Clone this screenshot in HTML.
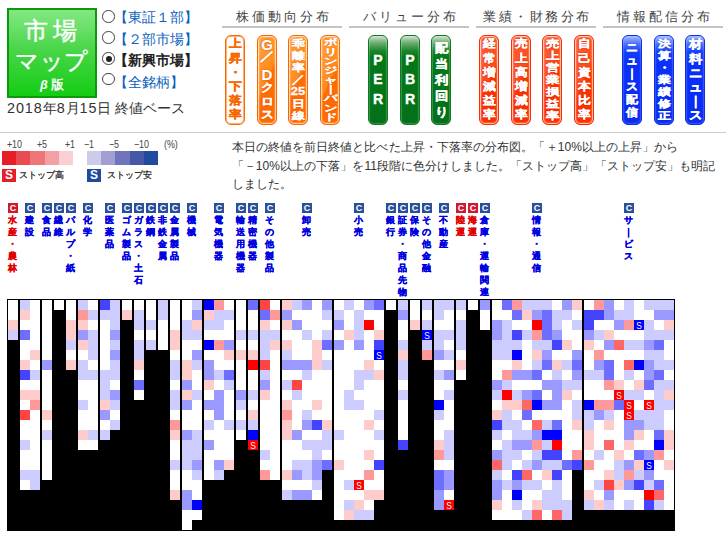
<!DOCTYPE html>
<html lang="ja"><head><meta charset="utf-8"><title>市場マップ</title>
<style>
html,body{margin:0;padding:0;background:#fff}
body{width:726px;height:537px;position:relative;overflow:hidden;font-family:"Liberation Sans",sans-serif;color:#333}
.abs,.gh,.p,.sl,.c{position:absolute}
#logo{left:7px;top:8px;width:86px;height:86px;border:2px solid #0c9a0c;background:linear-gradient(#84e884,#4ad64a 45%,#14cc14);color:#fff;text-align:center}
#logo div{-webkit-text-stroke:.45px #fff}
#logo .l1{position:absolute;left:0;right:0;top:8px;font-size:24px;line-height:26px;letter-spacing:5px;text-indent:2px}
#logo .l2{position:absolute;left:0;right:0;top:39px;font-size:22.5px;line-height:26px;letter-spacing:0.5px}
#logo .l3{position:absolute;left:0;right:0;top:68px;font-size:12.5px;line-height:14px;font-weight:bold;letter-spacing:3px;text-indent:3px;-webkit-text-stroke:0}
.rd{position:absolute;left:102px;padding-left:11.8px;font-size:14.3px;line-height:20px;color:#0a5fc0;white-space:nowrap}
.rd i{display:inline-block;width:10.5px;height:10.5px;border:1px solid #444;border-radius:50%;position:absolute;left:0;background:#fff}
.rd.on{color:#222;font-weight:bold}
.rd.on i:after{content:"";position:absolute;left:2.5px;top:2.5px;width:6px;height:6px;border-radius:50%;background:#222}
#date{left:7px;top:98px;font-size:14.4px;line-height:20px;color:#333;white-space:nowrap}#date b{font-weight:normal;letter-spacing:.9px}
.gh{top:7.5px;width:120px;height:18.5px;border-bottom:2px solid #c4c4c4;text-align:center;font-size:13px;line-height:18px;letter-spacing:3px;text-indent:3px;color:#444;white-space:nowrap}
.p{top:35px;width:18px;height:88px;border-radius:6px;border:1px solid;color:#fff;font-weight:bold;text-align:center;display:flex;align-items:center;justify-content:center;overflow:hidden}
.p span{display:block;width:18px;flex:none}
.p em{display:block;font-style:normal;white-space:nowrap;margin:0 -3px;-webkit-text-stroke:.4px currentColor}
.p .sl1{line-height:12px;transform:scale(1.1,.9)}.p .gap{height:7px}.p .lat{font-size:15px;line-height:11px;transform:scaleX(1.0);-webkit-text-stroke:.2px currentColor}.p.gd .lat+.lat,.p.gd .gap+.lat{line-height:12.5px}
.p.o{border-color:#f86800;background:linear-gradient(115deg,#ffa43a,#ff8c1c 47%,#ff6c00 53%,#ff6a00);box-shadow:inset 0 0 1.5px 1px rgba(255,255,255,.85);text-shadow:0 0 1.5px #e04c00,0 0 1px #e04c00}
.p.o.sel{background:#fff;color:#f86800;box-shadow:inset 0 0 1px .5px #f86800;text-shadow:none}
.p.g{border-color:#0a7c1c;background:linear-gradient(#c4dcc4 1%,#6aac72 8%,#1a8428 17%,#047818 24%,#04701a);box-shadow:inset 0 0 1px .5px rgba(255,255,255,.4)}
.p.r{border-color:#f83000;background:linear-gradient(115deg,#ff6238,#ff4a1a 47%,#ff3300 53%,#fa2e00);box-shadow:inset 0 0 1.5px 1px rgba(255,255,255,.85);text-shadow:0 0 1.5px #c81800,0 0 1px #c81800}
.p.u{border-color:#0c2ee0;background:linear-gradient(#9ab4ff 1%,#4a70ff 9%,#1440fa 18%,#0a30fa 30%,#0a2cf4);box-shadow:inset 0 0 1.5px .5px rgba(255,255,255,.35);text-shadow:0 0 1px #0018b0}
#hr1{left:0;top:132px;width:726px;height:1px;background:#ccc}
#lgt{left:0;top:140px;font-size:9.3px;line-height:10px;color:#444;white-space:nowrap;letter-spacing:-.1px}
#lgt span{position:absolute;top:0;transform:scale(.96,1.16);transform-origin:left center}
#lg{left:2px;top:151px;height:14px;width:156px;font-size:0}
#lg i{display:inline-block;width:14.18px;height:14px}
.sb{position:absolute;top:169px;width:14px;height:13px;color:#fff;font-weight:bold;font-size:12px;line-height:13px;text-align:center}
.st{position:absolute;top:169px;font-size:9px;line-height:13px;color:#222;white-space:nowrap;-webkit-text-stroke:.25px #222}
#desc{left:231.5px;top:138.2px;width:495px;font-size:12px;line-height:18.4px;letter-spacing:.08px;color:#333;white-space:nowrap}
.sl{top:203px;width:20px;text-align:center;font-size:8.5px;line-height:12px;font-weight:bold;color:#0000e0;-webkit-text-stroke:.3px currentColor}
.sl.r{color:#e00000}
.ic{display:block;position:relative;left:.8px;width:10px;height:10px;margin:0 auto 1.2px;background:#2a509c;color:#fff;font-size:9px;line-height:10.5px;font-weight:bold;-webkit-text-stroke:0}
.sl.r .ic{background:#d01830}
#map{left:7px;top:299px;width:668px;height:232px;background:#000}
.c{top:1px;width:10px}
.c i{display:block;width:10px;height:10px;background:#fff;font-style:normal;color:#fff;font-size:10px;line-height:14px;text-align:center;text-rendering:geometricPrecision}.c b{display:block;font-weight:normal;transform:scaleX(.84)}
.c .pa{background:#fcc}.c .pb{background:#f99}.c .pc{background:#f66}.c .pd{background:#f44}.c .pe,.c .R{background:#f00}
.c .n1{background:#ccf}.c .n2{background:#99f}.c .n3{background:#6d6dff}.c .n4{background:#44f}.c .n5,.c .B{background:#00f}
</style></head><body>
<div id="logo" class="abs"><div class="l1">市場</div><div class="l2">マップ</div><div class="l3"><i>β</i>版</div></div>
<div class="rd" style="top:7.4px"><i style="top:3px"></i>【東証１部】</div>
<div class="rd" style="top:29.4px"><i style="top:1.8px"></i>【２部市場】</div>
<div class="rd on" style="top:50.2px"><i style="top:2.2px"></i>【新興市場】</div>
<div class="rd" style="top:71.6px"><i style="top:1.3px"></i>【全銘柄】</div>
<div id="date" class="abs"><b>2018</b>年<b>8</b>月<b>15</b>日 終値ベース</div>
<div class=gh style="left:222px">株価動向分布</div><div class=gh style="left:349px">バリュー分布</div><div class=gh style="left:476px"><span style="letter-spacing:2.5px">業績・財務分布</span></div><div class=gh style="left:603px">情報配信分布</div><div class="p o sel" style="left:225.0px"><span style="font-size:13px;line-height:14.2px"><em style="transform:scaleY(0.86)">上</em><em style="transform:scaleY(0.86)">昇</em><em style="transform:scaleY(0.86)">・</em><em style="transform:scaleY(0.86)">下</em><em style="transform:scaleY(0.86)">落</em><em style="transform:scaleY(0.86)">率</em></span></div><div class="p o gd" style="left:257.0px"><span style="font-size:13px;line-height:13.4px"><em class=lat>G</em><em class=sl1>／</em><em class=gap></em><em class=lat>D</em><em style="transform:scaleY(0.86)">ク</em><em style="transform:scaleY(0.86)">ロ</em><em style="transform:scaleY(0.86)">ス</em></span></div><div class="p o" style="left:288.0px"><span style="font-size:13px;line-height:14px;transform:scaleY(0.86)"><em style="transform:scaleY(0.9)">乖</em><em style="transform:scaleY(0.9)">離</em><em style="transform:scaleY(0.9)">率</em><em>／</em><em style="transform:scaleY(0.9)">25</em><em style="transform:scaleY(0.9)">日</em><em style="transform:scaleY(0.9)">線</em></span></div><div class="p o" style="left:320.0px"><span style="font-size:13px;line-height:14px;transform:scaleY(0.667)"><em>ボ</em><em>リ</em><em>ン</em><em>ジ</em><em>ャ</em><em>｜</em><em>バ</em><em>ン</em><em>ド</em></span></div><div class="p g en" style="left:368.0px"><span style="font-size:14px;line-height:19.3px"><em>P</em><em>E</em><em>R</em></span></div><div class="p g en" style="left:400.0px"><span style="font-size:14px;line-height:19.3px"><em>P</em><em>B</em><em>R</em></span></div><div class="p g" style="left:431.0px"><span style="font-size:13px;line-height:16px"><em style="transform:scaleY(0.9)">配</em><em style="transform:scaleY(0.9)">当</em><em style="transform:scaleY(0.9)">利</em><em style="transform:scaleY(0.9)">回</em><em style="transform:scaleY(0.9)">り</em></span></div><div class="p r" style="left:479.0px"><span style="font-size:13px;line-height:14.2px"><em style="transform:scaleY(0.86)">経</em><em style="transform:scaleY(0.86)">常</em><em style="transform:scaleY(0.86)">増</em><em style="transform:scaleY(0.86)">減</em><em style="transform:scaleY(0.86)">益</em><em style="transform:scaleY(0.86)">率</em></span></div><div class="p r" style="left:511.0px"><span style="font-size:13px;line-height:14.2px"><em style="transform:scaleY(0.86)">売</em><em style="transform:scaleY(0.86)">上</em><em style="transform:scaleY(0.86)">高</em><em style="transform:scaleY(0.86)">増</em><em style="transform:scaleY(0.86)">減</em><em style="transform:scaleY(0.86)">率</em></span></div><div class="p r" style="left:542.0px"><span style="font-size:13px;line-height:14px;transform:scaleY(0.86)"><em style="transform:scaleY(0.86)">売</em><em style="transform:scaleY(0.86)">上</em><em style="transform:scaleY(0.86)">営</em><em style="transform:scaleY(0.86)">業</em><em style="transform:scaleY(0.86)">損</em><em style="transform:scaleY(0.86)">益</em><em style="transform:scaleY(0.86)">率</em></span></div><div class="p r" style="left:574.0px"><span style="font-size:13px;line-height:14.2px"><em style="transform:scaleY(0.86)">自</em><em style="transform:scaleY(0.86)">己</em><em style="transform:scaleY(0.86)">資</em><em style="transform:scaleY(0.86)">本</em><em style="transform:scaleY(0.86)">比</em><em style="transform:scaleY(0.86)">率</em></span></div><div class="p u" style="left:622.0px"><span style="font-size:12px;line-height:13px"><em style="transform:scaleY(0.92)">ニ</em><em style="transform:scaleY(0.92)">ュ</em><em style="transform:scaleY(0.92)">｜</em><em style="transform:scaleY(0.92)">ス</em><em style="transform:scaleY(0.92)">配</em><em style="transform:scaleY(0.92)">信</em></span></div><div class="p u" style="left:654.0px"><span style="font-size:13px;line-height:14px;transform:scaleY(0.86)"><em style="transform:scaleY(0.9)">決</em><em style="transform:scaleY(0.9)">算</em><em style="transform:scaleY(0.9)">・</em><em style="transform:scaleY(0.9)">業</em><em style="transform:scaleY(0.9)">績</em><em style="transform:scaleY(0.9)">修</em><em style="transform:scaleY(0.9)">正</em></span></div><div class="p u" style="left:685.0px"><span style="font-size:13px;line-height:14.2px"><em style="transform:scaleY(0.9)">材</em><em style="transform:scaleY(0.9)">料</em><em style="transform:scaleY(0.9)">ニ</em><em style="transform:scaleY(0.9)">ュ</em><em style="transform:scaleY(0.9)">｜</em><em style="transform:scaleY(0.9)">ス</em></span></div>
<div id="hr1" class="abs"></div>
<div id="lgt" class="abs"><span style="left:6.5px">+10</span><span style="left:36.5px">+5</span><span style="left:64.5px">+1</span><span style="left:83.5px">−1</span><span style="left:109px">−5</span><span style="left:134px">−10</span><span style="left:163.5px">(%)</span></div>
<div id="lg" class="abs"><i style="background:#e61f26"></i><i style="background:#ea4b50"></i><i style="background:#ee757a"></i><i style="background:#f3a0a3"></i><i style="background:#f9cfd1"></i><i style="background:#ffffff"></i><i style="background:#cccbe9"></i><i style="background:#9f9fd2"></i><i style="background:#7075bb"></i><i style="background:#4657a8"></i><i style="background:#1f4a9d"></i></div>
<div class="sb" style="left:2px;background:#e61f26">S</div><div class="st" style="left:19px">ストップ高</div>
<div class="sb" style="left:87px;background:#1f4a9d">S</div><div class="st" style="left:107px">ストップ安</div>
<div id="desc" class="abs">本日の終値を前日終値と比べた上昇・下落率の分布図。「＋10%以上の上昇」から<br>「－10%以上の下落」を11段階に色分けしました。「ストップ高」「ストップ安」も明記<br>しました。</div>
<div class="sl r" style="left:2.2px"><b class=ic>C</b>水<br>産<br>・<br>農<br>林</div><div class="sl" style="left:19.2px"><b class=ic>C</b>建<br>設</div><div class="sl" style="left:36.2px"><b class=ic>C</b>食<br>品</div><div class="sl" style="left:48.2px"><b class=ic>C</b>繊<br>維</div><div class="sl" style="left:60.2px"><b class=ic>C</b>パ<br>ル<br>プ<br>・<br>紙</div><div class="sl" style="left:77.2px"><b class=ic>C</b>化<br>学</div><div class="sl" style="left:99.2px"><b class=ic>C</b>医<br>薬<br>品</div><div class="sl" style="left:116.2px"><b class=ic>C</b>ゴ<br>ム<br>製<br>品</div><div class="sl" style="left:128.2px"><b class=ic>C</b>ガ<br>ラ<br>ス<br>・<br>土<br>石</div><div class="sl" style="left:140.2px"><b class=ic>C</b>鉄<br>鋼</div><div class="sl" style="left:152.2px"><b class=ic>C</b>非<br>鉄<br>金<br>属</div><div class="sl" style="left:164.2px"><b class=ic>C</b>金<br>属<br>製<br>品</div><div class="sl" style="left:181.2px"><b class=ic>C</b>機<br>械</div><div class="sl" style="left:208.2px"><b class=ic>C</b>電<br>気<br>機<br>器</div><div class="sl" style="left:230.2px"><b class=ic>C</b>輸<br>送<br>用<br>機<br>器</div><div class="sl" style="left:242.2px"><b class=ic>C</b>精<br>密<br>機<br>器</div><div class="sl" style="left:259.2px"><b class=ic>C</b>そ<br>の<br>他<br>製<br>品</div><div class="sl" style="left:296.2px"><b class=ic>C</b>卸<br>売</div><div class="sl" style="left:348.2px"><b class=ic>C</b>小<br>売</div><div class="sl" style="left:380.2px"><b class=ic>C</b>銀<br>行</div><div class="sl" style="left:392.2px"><b class=ic>C</b>証<br>券<br>・<br>商<br>品<br>先<br>物</div><div class="sl" style="left:404.2px"><b class=ic>C</b>保<br>険</div><div class="sl" style="left:416.2px"><b class=ic>C</b>そ<br>の<br>他<br>金<br>融</div><div class="sl" style="left:433.2px"><b class=ic>C</b>不<br>動<br>産</div><div class="sl r" style="left:450.2px"><b class=ic>C</b>陸<br>運</div><div class="sl r" style="left:462.2px"><b class=ic>C</b>海<br>運</div><div class="sl" style="left:474.2px"><b class=ic>C</b>倉<br>庫<br>・<br>運<br>輸<br>関<br>連</div><div class="sl" style="left:526.2px"><b class=ic>C</b>情<br>報<br>・<br>通<br>信</div><div class="sl" style="left:618.2px"><b class=ic>C</b>サ<br>｜<br>ビ<br>ス</div>
<div id="map" class="abs"><div class=c style="left:1px"><i></i><i></i><i class=pa></i><i class=n1></i></div><div class=c style="left:13px"><i class=n1></i><i class=pa></i><i></i><i class=n3></i><i></i><i></i><i class=pa></i><i class=n4></i><i></i><i class=pa></i><i></i><i class=pd></i><i></i><i></i><i class=n1></i><i></i><i></i><i class=n1></i><i></i></div><div class=c style="left:23px"><i></i><i></i><i></i><i></i><i></i><i class=pa></i><i></i><i class=n1></i><i></i><i class=pa></i><i class=pb></i><i></i><i></i><i></i><i></i><i></i><i></i><i class=n1></i><i class=n1></i></div><div class=c style="left:35px"><i></i><i></i><i></i><i></i><i></i><i></i><i class=n2></i><i></i><i></i><i></i><i></i><i class=pa></i><i></i><i class=n1></i><i></i><i></i><i></i><i></i></div><div class=c style="left:47px"><i></i></div><div class=c style="left:59px"><i></i><i></i><i class=pa></i><i class=pa></i><i class=n1></i><i></i><i class=pa></i></div><div class=c style="left:71px"><i class=n1></i><i class=pb></i><i class=pa></i><i class=n2></i><i class=pa></i><i></i><i class=n1></i><i class=n1></i><i></i><i></i><i class=n1></i><i></i><i></i><i class=pa></i><i></i></div><div class=c style="left:81px"><i></i><i class=n1></i><i></i><i class=n1></i><i class=n1></i><i class=n1></i><i></i><i class=n1></i><i></i><i></i><i></i><i></i><i></i><i class=n1></i><i></i></div><div class=c style="left:93px"><i class=n4></i><i class=n1></i><i></i><i></i><i></i><i></i><i></i><i class=n1></i><i class=n1></i><i class=n1></i><i class=pa></i><i class=n2></i><i></i><i class=n1></i></div><div class=c style="left:103px"><i class=n1></i><i class=n1></i><i class=n1></i><i class=n2></i><i class=n1></i><i class=n2></i><i class=n1></i><i class=n1></i><i></i><i class=n2></i><i class=n1></i><i></i><i class=n1></i></div><div class=c style="left:115px"><i></i><i class=pa></i></div><div class=c style="left:127px"><i></i><i class=n1></i><i class=n1></i><i></i><i class=n1></i><i class=n1></i><i class=pa></i><i></i><i class=n3></i><i></i></div><div class=c style="left:139px"><i></i><i></i><i class=n1></i><i></i><i class=n1></i></div><div class=c style="left:151px"><i class=n1></i><i class=n1></i><i></i><i></i><i></i></div><div class=c style="left:163px"><i></i><i></i><i></i><i class=pa></i><i class=pa></i><i></i><i class=n1></i><i class=n1></i><i></i><i class=n1></i><i class=n1></i><i></i><i class=pb></i><i class=pa></i><i></i><i></i><i class=n1></i><i></i><i></i><i class=pa></i></div><div class=c style="left:175px"><i></i><i></i><i class=n1></i><i class=n1></i><i></i><i></i><i class=pa></i><i class=pa></i><i class=n2></i><i class=pa></i><i class=n2></i><i></i><i></i><i class=n2></i><i class=n1></i><i class=n1></i><i class=n1></i><i></i><i></i><i class=n2></i><i class=n2></i><i></i><i></i></div><div class=c style="left:185px"><i class=n1></i><i class=n2></i><i class=pa></i><i class=n1></i><i></i><i class=n2></i><i class=n1></i><i></i><i></i><i class=n1></i><i></i><i></i><i></i><i class=n1></i><i class=n1></i><i class=n1></i><i class=n2></i><i class=n1></i><i></i><i></i><i class=n5></i><i></i></div><div class=c style="left:197px"><i class=n5></i><i class=pa></i><i class=n1></i><i></i><i class=n5></i><i></i><i class=n2></i><i class=n2></i><i class=pa></i><i></i><i class=n2></i><i></i><i class=n1></i><i></i><i class=n2></i><i></i><i></i><i></i></div><div class=c style="left:207px"><i class=pb></i><i class=n1></i><i class=n1></i><i></i><i class=pb></i><i></i><i></i><i class=n1></i><i></i><i class=n2></i><i class=n2></i><i class=n2></i><i></i><i></i><i></i><i></i><i class=n2></i><i class=n1></i></div><div class=c style="left:217px"><i></i><i class=n1></i><i></i><i></i><i class=n2></i><i class=pa></i><i></i><i class=n3></i><i class=n1></i><i></i><i></i><i></i><i class=n1></i><i></i><i></i><i></i><i class=pa></i></div><div class=c style="left:229px"><i></i><i></i><i></i><i class=n1></i><i></i><i class=pa></i><i></i><i></i><i></i><i class=n2></i><i class=n1></i><i></i><i class=n1></i><i></i></div><div class=c style="left:241px"><i class=n3></i><i></i><i></i><i class=n1></i><i></i><i class=pa></i><i class=pe></i><i></i><i></i><i class=n1></i><i></i><i class=pa></i><i class=n1></i><i class=n5></i><i class=R><b>S</b></i></div><div class=c style="left:253px"><i class=pd></i><i class=n3></i><i class=pa></i><i class=n1></i><i class=n1></i><i class=n1></i><i class=pd></i><i class=n1></i><i class=n2></i><i class=pa></i><i></i><i></i><i></i><i></i><i></i><i class=n1></i><i></i><i class=pb></i></div><div class=c style="left:263px"><i></i><i class=pb></i><i></i><i class=n1></i><i class=pa></i><i></i><i></i><i></i><i></i><i></i><i></i><i></i><i></i><i></i><i></i><i></i><i></i><i></i></div><div class=c style="left:275px"><i class=pa></i><i class=n2></i><i class=pa></i><i></i><i class=pa></i><i class=n1></i><i class=n2></i><i></i><i class=n1></i><i></i><i class=pa></i><i class=pb></i><i class=pa></i><i class=pa></i><i></i><i></i><i></i><i class=pa></i><i></i><i class=n1></i></div><div class=c style="left:285px"><i class=n1></i><i></i><i class=n2></i><i></i><i></i><i></i><i class=n2></i><i></i><i class=pd></i><i class=n1></i><i></i><i></i><i></i><i class=n2></i><i></i><i></i><i class=n1></i><i class=n2></i><i></i><i class=n2></i></div><div class=c style="left:295px"><i class=n2></i><i></i><i></i><i class=n1></i><i></i><i></i><i class=n2></i><i class=n1></i><i></i><i></i><i></i><i class=n1></i><i class=n2></i><i></i><i class=n1></i><i></i><i class=n1></i><i class=n1></i><i></i><i class=n2></i></div><div class=c style="left:305px"><i></i><i></i><i></i><i></i><i class=pa></i><i class=pa></i><i class=pa></i><i></i><i></i><i></i><i class=pa></i><i></i><i class=n4></i><i></i><i class=n1></i><i class=n1></i><i class=n2></i><i class=n2></i><i class=n1></i><i></i></div><div class=c style="left:315px"><i class=n2></i><i class=n1></i><i></i><i class=n1></i><i class=n3></i><i></i><i class=n1></i><i></i><i></i><i></i><i></i><i></i><i class=pa></i><i class=n1></i><i class=n1></i><i></i><i class=n3></i></div><div class=c style="left:327px"><i></i><i class=n1></i><i class=n2></i><i></i><i class=n2></i><i></i><i></i><i></i><i></i><i></i><i></i><i></i><i></i><i class=n1></i><i></i><i></i><i class=pa></i><i></i><i></i><i></i><i></i><i></i></div><div class=c style="left:337px"><i class=n1></i><i></i><i></i><i class=pa></i><i></i><i></i><i></i><i></i><i></i><i class=n1></i><i class=n1></i><i></i><i></i><i></i><i></i><i></i><i></i><i></i><i class=n1></i><i></i><i class=n1></i><i class=pa></i></div><div class=c style="left:347px"><i></i><i class=n1></i><i class=n1></i><i class=n1></i><i class=n2></i><i></i><i></i><i class=n1></i><i class=n1></i><i></i><i class=n1></i><i></i><i></i><i></i><i></i><i></i><i></i><i></i><i class=R><b>S</b></i><i></i><i class=pa></i><i class=n1></i></div><div class=c style="left:357px"><i class=n2></i><i></i><i class=pe></i><i></i><i></i><i></i><i class=pa></i><i class=n1></i><i></i><i></i><i></i><i></i><i class=pa></i><i></i><i></i><i class=pa></i><i></i><i class=pb></i><i></i><i class=pa></i><i></i><i class=n1></i></div><div class=c style="left:367px"><i class=n3></i><i></i><i></i><i class=pa></i><i class=n4></i><i class=B><b>S</b></i><i></i><i class=pa></i><i></i><i></i><i></i><i class=n1></i><i></i><i class=n1></i><i></i><i></i><i class=n4></i><i></i><i></i><i class=pa></i></div><div class=c style="left:379px"><i></i></div><div class=c style="left:391px"><i class=n1></i><i class=n2></i><i></i><i></i><i class=n1></i><i class=pa></i><i class=n1></i><i class=n1></i><i></i><i class=n1></i><i></i><i></i><i></i><i></i><i class=n4></i></div><div class=c style="left:403px"><i></i><i></i><i class=pa></i></div><div class=c style="left:415px"><i class=n1></i><i></i><i class=n1></i><i class=B><b>S</b></i><i class=n1></i><i class=pb></i></div><div class=c style="left:427px"><i class=n1></i><i class=n1></i><i></i><i class=n1></i><i class=n1></i><i class=n2></i><i></i><i class=n1></i><i></i><i></i><i class=n5></i><i class=n1></i><i></i><i></i><i class=pa></i><i class=pb></i><i></i><i class=n3></i><i class=n3></i><i class=n2></i><i class=n2></i></div><div class=c style="left:437px"><i class=n1></i><i></i><i></i><i class=n1></i><i></i><i class=n1></i><i></i><i class=n2></i><i></i><i class=n1></i><i></i><i></i><i></i><i class=n1></i><i class=n1></i><i class=n1></i><i></i><i class=n2></i><i class=n2></i><i></i><i class=R><b>S</b></i></div><div class=c style="left:449px"><i class=n1></i><i></i><i class=n1></i><i class=n1></i><i class=n1></i><i></i><i class=pa></i><i></i></div><div class=c style="left:461px"><i></i></div><div class=c style="left:473px"><i class=n2></i><i></i><i></i></div><div class=c style="left:485px"><i></i><i></i><i class=n2></i><i class=n2></i><i class=n1></i><i class=n1></i><i></i><i></i><i class=n2></i><i class=n1></i><i></i><i class=pa></i><i class=n4></i><i class=n1></i><i></i><i class=n2></i><i class=pc></i><i class=n1></i><i class=n2></i><i class=n2></i><i class=pa></i><i></i></div><div class=c style="left:495px"><i class=n3></i><i></i><i class=n1></i><i class=n1></i><i class=n1></i><i class=n1></i><i></i><i class=pb></i><i class=n1></i><i class=pe></i><i class=pa></i><i class=n1></i><i class=n1></i><i></i><i class=n1></i><i class=n1></i><i class=n1></i><i></i><i class=n1></i><i></i><i></i><i></i></div><div class=c style="left:505px"><i class=pb></i><i class=n3></i><i></i><i class=n4></i><i class=n1></i><i class=n5></i><i class=pa></i><i class=n2></i><i></i><i class=n1></i><i class=pa></i><i></i><i class=n1></i><i class=n1></i><i class=n2></i><i class=n1></i><i></i><i class=n4></i><i class=n2></i><i class=n5></i><i class=n1></i><i></i></div><div class=c style="left:515px"><i class=n1></i><i class=pa></i><i></i><i class=n1></i><i></i><i></i><i></i><i class=n2></i><i></i><i class=n2></i><i class=pc></i><i class=n3></i><i></i><i class=n1></i><i class=n2></i><i></i><i class=n1></i><i class=pc></i><i class=n1></i><i></i><i></i><i class=n1></i></div><div class=c style="left:525px"><i class=n1></i><i class=n2></i><i class=pe></i><i class=pb></i><i class=n1></i><i class=pa></i><i class=n1></i><i class=n3></i><i></i><i class=n3></i><i class=n5></i><i></i><i class=pc></i><i class=n2></i><i class=pb></i><i class=n1></i><i class=n2></i><i></i><i class=n1></i><i></i><i class=pa></i><i class=pc></i></div><div class=c style="left:535px"><i class=n1></i><i class=n3></i><i class=n3></i><i class=n3></i><i class=n1></i><i class=n2></i><i class=n3></i><i></i><i class=n2></i><i></i><i class=n2></i><i></i><i class=n1></i><i class=n5></i><i class=n1></i><i class=n4></i><i class=n1></i><i class=pa></i><i></i><i class=n1></i><i class=n1></i><i></i></div><div class=c style="left:545px"><i></i><i class=n1></i><i class=n1></i><i class=n2></i><i class=n4></i><i></i><i class=pa></i><i class=n1></i><i class=n2></i><i class=n2></i><i class=n2></i><i></i><i class=n3></i><i class=n5></i><i class=pe></i><i class=n4></i><i class=n1></i><i class=n4></i><i class=n1></i><i class=n1></i><i class=n1></i><i class=pc></i></div><div class=c style="left:555px"><i class=n2></i><i class=n1></i><i></i><i></i><i class=pa></i><i></i><i class=n1></i><i></i><i class=n1></i><i class=pa></i><i></i><i></i><i></i><i></i><i></i><i></i><i class=n3></i><i></i><i></i><i></i><i class=n1></i><i class=n1></i></div><div class=c style="left:565px"><i class=pa></i><i></i><i class=n1></i><i></i><i></i><i class=n2></i><i class=n3></i><i class=n2></i><i class=n1></i><i></i><i class=n1></i><i class=n1></i><i class=pa></i><i></i><i></i><i class=pb></i><i class=n4></i></div><div class=c style="left:577px"><i></i><i class=n4></i><i class=n4></i><i class=n2></i><i class=pa></i><i></i><i></i><i class=n1></i><i></i><i></i><i class=n5></i><i class=n1></i><i class=n1></i><i class=pa></i><i class=pa></i><i></i><i class=pb></i><i></i><i></i><i class=pa></i><i class=n1></i></div><div class=c style="left:587px"><i class=pb></i><i class=n4></i><i></i><i class=n1></i><i></i><i class=pb></i><i class=n2></i><i class=n1></i><i></i><i></i><i class=pb></i><i class=n2></i><i></i><i></i><i></i><i class=n1></i><i></i><i></i><i class=n1></i><i></i><i class=pa></i></div><div class=c style="left:597px"><i class=n2></i><i class=n2></i><i></i><i class=pa></i><i class=n2></i><i></i><i class=n3></i><i class=n3></i><i class=pb></i><i></i><i class=pb></i><i class=n1></i><i class=pa></i><i></i><i class=pc></i><i></i><i></i><i class=pa></i><i class=pd></i><i class=n2></i><i class=n1></i></div><div class=c style="left:607px"><i></i><i class=n1></i><i class=n2></i><i></i><i class=pc></i><i></i><i></i><i></i><i class=pa></i><i class=R><b>S</b></i><i class=n3></i><i></i><i></i><i></i><i></i><i class=pa></i><i class=n1></i><i class=n1></i><i class=pa></i><i></i><i></i></div><div class=c style="left:617px"><i class=n1></i><i class=n1></i><i class=pb></i><i></i><i class=n1></i><i></i><i class=pc></i><i class=n1></i><i></i><i class=n1></i><i class=R><b>S</b></i><i class=R><b>S</b></i><i class=n2></i><i class=n2></i><i class=pa></i><i></i><i class=n2></i><i class=pb></i><i class=n2></i><i></i><i class=n1></i></div><div class=c style="left:627px"><i></i><i></i><i class=B><b>S</b></i><i></i><i class=n1></i><i></i><i class=n5></i><i></i><i class=pa></i><i class=n1></i><i></i><i class=n1></i><i class=n2></i><i class=pa></i><i></i><i class=n3></i><i class=pa></i><i class=n1></i><i class=n4></i><i></i><i></i></div><div class=c style="left:637px"><i class=n1></i><i></i><i class=n1></i><i class=n1></i><i class=n2></i><i class=n1></i><i class=n2></i><i class=n2></i><i class=n3></i><i></i><i class=R><b>S</b></i><i class=n1></i><i class=n1></i><i></i><i></i><i class=n2></i><i class=B><b>S</b></i><i class=n2></i><i class=n1></i><i class=pe></i><i class=n4></i></div><div class=c style="left:647px"><i class=n1></i><i class=n2></i><i></i><i class=n1></i><i class=n3></i><i class=n1></i><i class=n1></i><i class=n3></i><i class=n1></i><i class=n1></i><i class=n1></i><i class=n1></i><i class=n1></i><i class=n3></i><i class=n5></i><i class=pb></i><i></i><i></i><i class=n3></i><i class=pc></i><i class=n1></i></div><div class=c style="left:657px"><i class=n1></i><i class=n2></i><i class=pa></i><i class=n1></i><i></i><i></i><i class=n1></i><i></i><i class=n1></i><i class=pa></i><i class=n1></i><i></i><i></i><i class=pa></i><i class=pa></i><i></i><i class=pa></i><i></i><i></i><i></i><i></i></div></div>
</body></html>
